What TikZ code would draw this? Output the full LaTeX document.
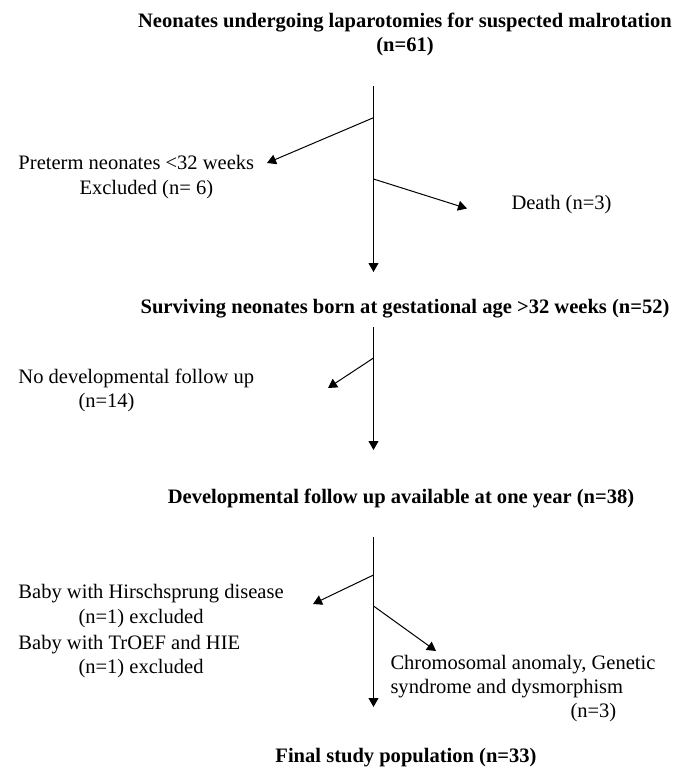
\documentclass[tikz,border=0pt]{standalone}
\usepackage{fontspec}
\setmainfont{Liberation Serif}
\usetikzlibrary{arrows.meta}

\tikzset{every picture/.style={line width=0.75pt}}
\tikzset{flowarrow/.style={-{Triangle[length=6.75pt,width=7.5pt]}}}
\tikzset{headtxt/.style={anchor=base,inner sep=0.75pt,font=\fontsize{15.4pt}{18.5pt}\selectfont\bfseries}}
\tikzset{sidetxt/.style={anchor=base west,inner sep=0pt,font=\fontsize{15.4pt}{18.5pt}\selectfont}}

\begin{document}
\begin{tikzpicture}[x=0.75pt,y=0.75pt,yscale=-1,xscale=1]
    \useasboundingbox (0,0) rectangle (675,768); %diagram is 675 wide and 768 high

    % Text Node
    \draw (405,27) node (start) [headtxt] {Neonates undergoing laparotomies for suspected malrotation};
    % Text Node
    \draw (405,51) node (startn) [headtxt] {(n=61)};
    % Text Node
    \draw (18,169) node (preterm) [sidetxt] {Preterm neonates <32 weeks};
    % Text Node
    \draw (79,194) node (pretermn) [sidetxt] {Excluded (n= 6)};
    % Text Node
    \draw (511,209) node (death) [sidetxt] {Death (n=3)};
    % Text Node
    \draw (405,313) node (surviving) [headtxt] {Surviving neonates born at gestational age >32 weeks (n=52)};
    % Text Node
    \draw (18,383) node (nofollow) [sidetxt] {No developmental follow up};
    % Text Node
    \draw (78,407) node (nofollown) [sidetxt] {(n=14)};
    % Text Node
    \draw (401,503) node (followup) [headtxt] {Developmental follow up available at one year (n=38)};
    % Text Node
    \draw (18,598) node (hirsch) [sidetxt] {Baby with Hirschsprung disease};
    % Text Node
    \draw (78,623) node (hirschn) [sidetxt] {(n=1) excluded};
    % Text Node
    \draw (18,649) node (troef) [sidetxt] {Baby with TrOEF and HIE};
    % Text Node
    \draw (78,673) node (troefn) [sidetxt] {(n=1) excluded};
    % Text Node
    \draw (390,669) node (chromo) [sidetxt] {Chromosomal anomaly, Genetic};
    % Text Node
    \draw (390,693) node (chromob) [sidetxt] {syndrome and dysmorphism};
    % Text Node
    \draw (570,717) node (chromon) [sidetxt] {(n=3)};
    % Text Node
    \draw (406,762) node (final) [headtxt] {Final study population (n=33)};

    %Coordinates on the trunk
    \coordinate (topA) at (373.5,86);
    \coordinate (endA) at (373.5,272);
    \coordinate (splitA1) at (373.5,117.7);
    \coordinate (splitA2) at (373.5,179);
    \coordinate (tipPreterm) at (267,163);
    \coordinate (tipDeath) at (467,208.5);
    \coordinate (topB) at (373.5,327);
    \coordinate (endB) at (373.5,450);
    \coordinate (splitB) at (373.5,358);
    \coordinate (tipNofollow) at (328,388);
    \coordinate (topC) at (373.5,537);
    \coordinate (endC) at (373.5,707);
    \coordinate (splitC1) at (373.5,575);
    \coordinate (splitC2) at (373.5,606);
    \coordinate (tipExcl) at (313,604);
    \coordinate (tipChromo) at (436,651);

    %Straight Lines
    \draw [flowarrow] (topA) -- (endA);
    \draw [flowarrow] (splitA1) -- (tipPreterm);
    \draw [flowarrow] (splitA2) -- (tipDeath);
    %Straight Lines
    \draw [flowarrow] (topB) -- (endB);
    \draw [flowarrow] (splitB) -- (tipNofollow);
    %Straight Lines
    \draw [flowarrow] (topC) -- (endC);
    \draw [flowarrow] (splitC1) -- (tipExcl);
    \draw [flowarrow] (splitC2) -- (tipChromo);

\end{tikzpicture}
\end{document}
